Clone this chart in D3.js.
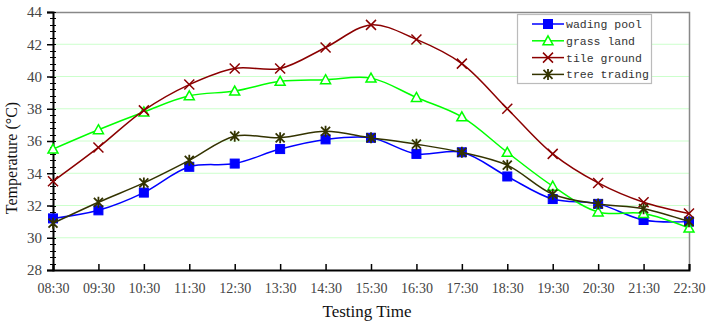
<!DOCTYPE html>
<html>
<head>
<meta charset="utf-8">
<script src="https://cdn.jsdelivr.net/npm/d3@7"></script>
<style>
  body { margin: 0; background: #fff; }
  svg { display: block; }
  .serif { font-family: "Liberation Serif", "DejaVu Serif", serif; }
</style>
</head>
<body>
<svg></svg>
<script>
// data
const times = ["08:30","09:30","10:30","11:30","12:30","13:30","14:30","15:30","16:30","17:30","18:30","19:30","20:30","21:30","22:30"];
const wadingPool  = [31.2, 31.7, 32.8, 34.4, 34.6, 35.5, 36.1, 36.2, 35.2, 35.3, 33.8, 32.4, 32.1, 31.1, 31.0];
const grassLand   = [35.5, 36.7, 37.8, 38.8, 39.1, 39.7, 39.8, 39.9, 38.7, 37.5, 35.3, 33.2, 31.6, 31.5, 30.6];
const tileGround  = [33.5, 35.6, 37.9, 39.5, 40.5, 40.5, 41.8, 43.2, 42.3, 40.8, 38.0, 35.2, 33.4, 32.2, 31.5];
const treeTrading = [30.9, 32.2, 33.4, 34.8, 36.3, 36.2, 36.6, 36.2, 35.8, 35.3, 34.5, 32.7, 32.1, 31.8, 31.0];
const yTicks = [28, 30, 32, 34, 36, 38, 40, 42, 44];

const series = [
  {name: "wading pool",  values: wadingPool,  color: "#0000ff", marker: "square"},
  {name: "grass land",   values: grassLand,   color: "#00ff00", marker: "triangle"},
  {name: "tile ground",  values: tileGround,  color: "#8b0000", marker: "x"},
  {name: "tree trading", values: treeTrading, color: "#333300", marker: "star"}
];

var w = 708;
var h = 324;
const margin = {top: 12, bottom: 54, left: 53, right: 19};
const innerWidth = w - margin.left - margin.right;
const innerHeight = h - margin.top - margin.bottom;

let svg = d3.select("svg").attr("width", w).attr("height", h);
const g = svg.append("g").attr("transform", `translate(${margin.left},${margin.top})`);

let xScale = d3.scalePoint().domain(times).range([0, innerWidth]);
let yScale = d3.scaleLinear().domain([28, 44]).range([innerHeight, 0]);

// gridlines
g.append("g").selectAll("line")
  .data(yTicks.filter(d => d > 28 && d < 44))
  .enter().append("line")
  .attr("x1", 0).attr("x2", innerWidth)
  .attr("y1", d => yScale(d)).attr("y2", d => yScale(d))
  .attr("stroke", "#ccffcc").attr("stroke-width", 1);

// top and right border
g.append("path")
  .attr("d", `M0,${yScale(44) + 0.5}H${innerWidth + 0.5}V${innerHeight}`)
  .attr("fill", "none").attr("stroke", "#888").attr("stroke-width", 1.5);

// minor ticks on y axis
let minor = d3.range(28, 44.01, 0.4);
g.append("g").selectAll("line")
  .data(minor)
  .enter().append("line")
  .attr("x1", -3).attr("x2", 3)
  .attr("y1", d => Math.round(yScale(d)) + 0.5).attr("y2", d => Math.round(yScale(d)) + 0.5)
  .attr("stroke", "#000").attr("stroke-width", 1);

let yAxis = d3.axisLeft(yScale).tickValues(yTicks).tickSize(6).tickPadding(5);
let yAxisG = g.append("g").call(yAxis).attr("font-family", null);
yAxisG.select(".domain").attr("stroke-width", 2);
yAxisG.selectAll(".tick line").attr("stroke-width", 1.5);
yAxisG.selectAll("text")
  .attr("class", "serif").style("font-size", "15px").attr("fill", "#444");

let xAxis = d3.axisBottom(xScale).tickSize(-6).tickPadding(13);
let xAxisG = g.append("g").call(xAxis).attr("font-family", null)
  .attr("transform", `translate(0,${innerHeight})`);
xAxisG.select(".domain").attr("stroke-width", 2);
xAxisG.selectAll(".tick line").attr("stroke-width", 1.5);
xAxisG.selectAll("text")
  .attr("class", "serif").style("font-size", "14px").attr("fill", "#444");

// lines
let line = d3.line()
  .x((d, i) => xScale(times[i]))
  .y(d => yScale(d))
  .curve(d3.curveCatmullRom.alpha(0.5));

function drawMarker(sel, type, color) {
  if (type === "square") {
    sel.append("rect").attr("x", -4.5).attr("y", -4.5).attr("width", 9).attr("height", 9)
      .attr("fill", color).attr("stroke", color);
  } else if (type === "triangle") {
    sel.append("path").attr("d", "M0,-5L5,4L-5,4Z")
      .attr("fill", "#fff").attr("stroke", color).attr("stroke-width", 1.5);
  } else if (type === "x") {
    sel.append("path").attr("d", "M-5,-5L5,5M-5,5L5,-5")
      .attr("stroke", color).attr("stroke-width", 1.5);
  } else {
    sel.append("path").attr("d", "M-4.5,-4.5L4.5,4.5M-4.5,4.5L4.5,-4.5M0,-5.5V5.5")
      .attr("stroke", color).attr("stroke-width", 1.8);
  }
}

series.forEach(function(s) {
  g.append("path")
    .datum(s.values)
    .attr("d", line)
    .attr("fill", "none")
    .attr("stroke", s.color)
    .attr("stroke-width", 1.5);
  let pts = g.append("g").selectAll("g")
    .data(s.values)
    .enter().append("g")
    .attr("transform", (d, i) => `translate(${xScale(times[i])},${yScale(d)})`);
  drawMarker(pts, s.marker, s.color);
});

// legend
let legend = svg.append("g").attr("transform", "translate(517,14)");
legend.append("rect").attr("x", 0.5).attr("y", 0.5).attr("width", 134).attr("height", 69)
  .attr("fill", "#fff").attr("stroke", "#bbb").attr("stroke-width", 1.2);
series.forEach(function(s, i) {
  let row = legend.append("g").attr("transform", `translate(0,${10 + i * 16.8})`);
  row.append("line").attr("x1", 15).attr("x2", 47).attr("y1", 0).attr("y2", 0)
    .attr("stroke", s.color).attr("stroke-width", 1.5);
  let m = row.append("g").attr("transform", "translate(31,0)");
  drawMarker(m, s.marker, s.color);
  row.append("text").attr("x", 49).attr("y", 4)
    .style("font-family", "'Liberation Mono', monospace").style("font-size", "11.5px")
    .attr("fill", "#333")
    .text(s.name);
});

// axis titles
svg.append("text")
  .text("Testing Time")
  .attr("class", "serif")
  .attr("x", 367).attr("y", 317)
  .attr("text-anchor", "middle")
  .style("font-size", "17px").attr("fill", "#111");
svg.append("text")
  .attr("class", "serif")
  .attr("transform", "translate(17,158)rotate(-90)")
  .attr("text-anchor", "middle")
  .style("font-size", "16px").attr("fill", "#111")
  .text("Temperature (°C)");
</script>
</body>
</html>
